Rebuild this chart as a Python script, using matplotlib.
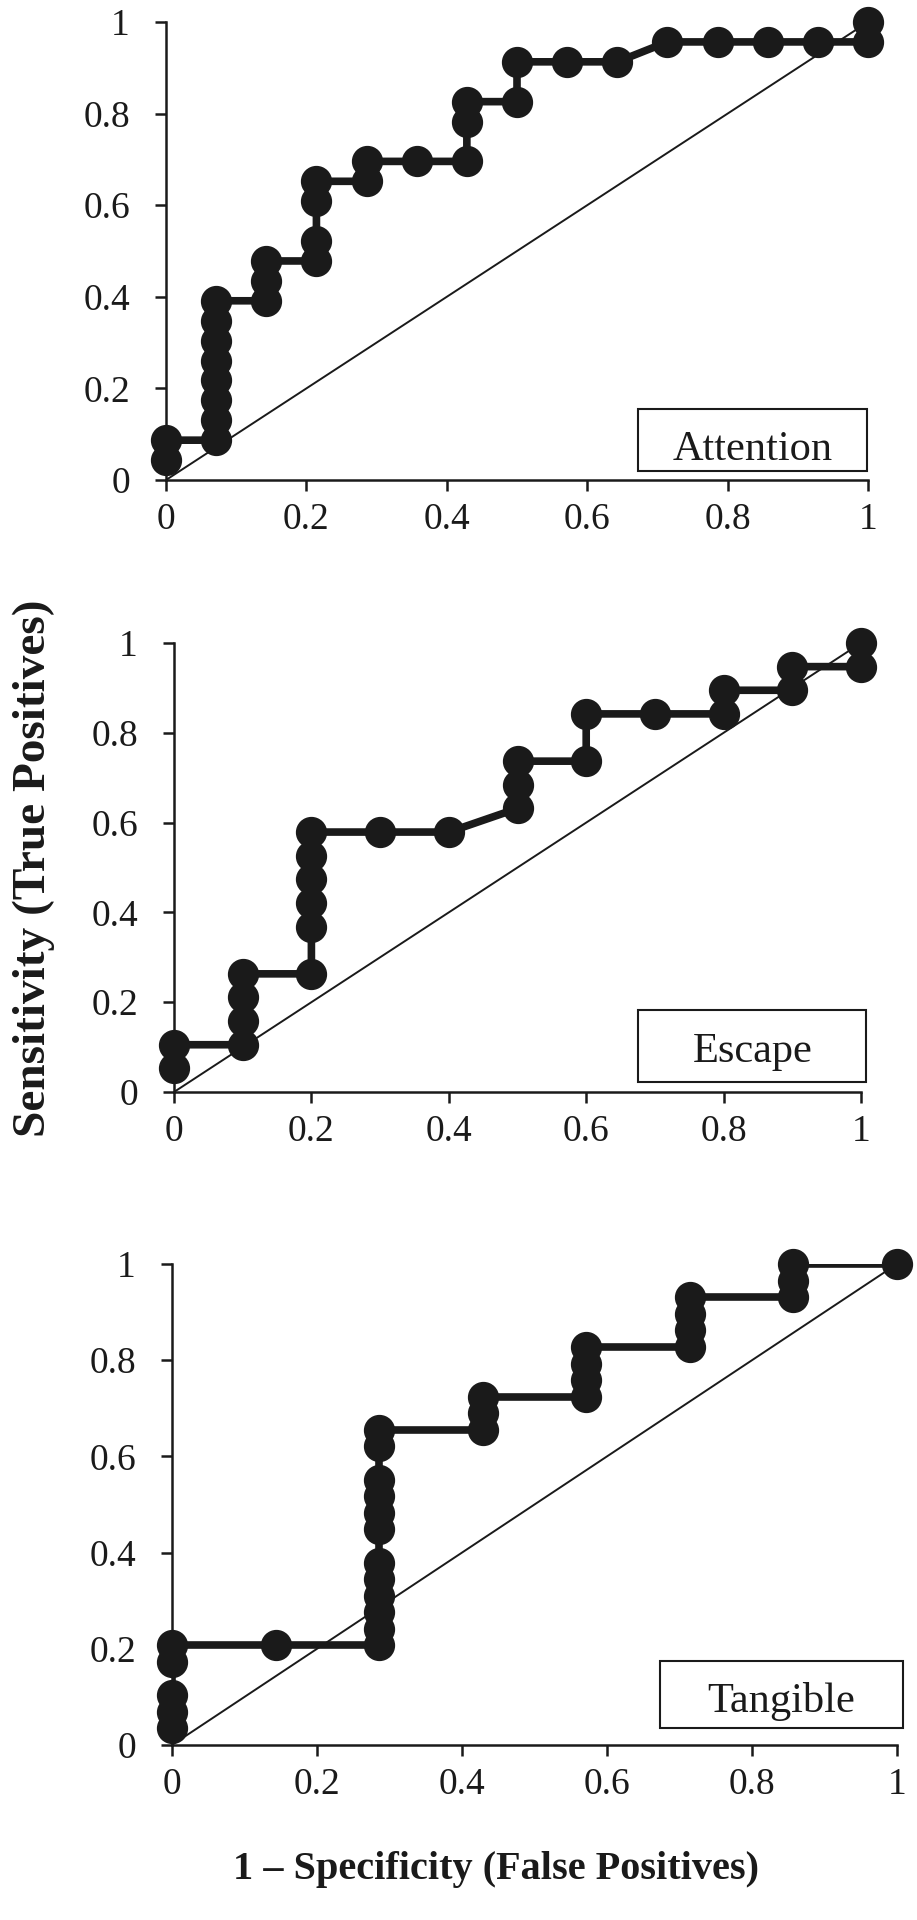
import matplotlib
matplotlib.use("Agg")
import matplotlib.pyplot as plt
import matplotlib.patches as mpatches
import numpy as np

plt.rcParams['font.family'] = ['Liberation Serif', 'DejaVu Serif']

# ROC points, counted in units of one case (false positives / true positives)
att_fp = [0, 0, 1, 1, 1, 1, 1, 1, 1, 1, 2, 2, 2, 3, 3, 3, 3, 4, 4, 5, 6, 6, 6, 7, 7, 8, 9, 10, 11, 12, 13, 14, 14]
att_tp = [1, 2, 2, 3, 4, 5, 6, 7, 8, 9, 9, 10, 11, 11, 12, 14, 15, 15, 16, 16, 16, 18, 19, 19, 21, 21, 21, 22, 22, 22, 22, 22, 23]
att_neg, att_pos = 14, 23

esc_fp = [0, 0, 1, 1, 1, 1, 2, 2, 2, 2, 2, 2, 3, 4, 5, 5, 5, 6, 6, 7, 8, 8, 9, 9, 10, 10]
esc_tp = [1, 2, 2, 3, 4, 5, 5, 7, 8, 9, 10, 11, 11, 11, 12, 13, 14, 14, 16, 16, 16, 17, 17, 18, 18, 19]
esc_neg, esc_pos = 10, 19

tan_fp = [0, 0, 0, 0, 0, 1, 2, 2, 2, 2, 2, 2, 2, 2, 2, 2, 2, 2, 3, 3, 3, 4, 4, 4, 4, 5, 5, 5, 5, 6, 6, 6, 7]
tan_tp = [1, 2, 3, 5, 6, 6, 6, 7, 8, 9, 10, 11, 13, 14, 15, 16, 18, 19, 19, 20, 21, 21, 22, 23, 24, 24, 25, 26, 27, 27, 28, 29, 29]
tan_neg, tan_pos = 7, 29

ticks = [0, 0.2, 0.4, 0.6, 0.8, 1]
tick_labels = ["0", "0.2", "0.4", "0.6", "0.8", "1"]

panels = [
    ("Attention", att_fp, att_tp, att_neg, att_pos),
    ("Escape", esc_fp, esc_tp, esc_neg, esc_pos),
    ("Tangible", tan_fp, tan_tp, tan_neg, tan_pos),
]

W, H = 917, 1920
# axes boxes in pixels: left, right, top, bottom
boxes_px = [(166, 868, 22, 480), (174, 861, 643, 1092), (172, 897, 1264, 1745)]
# label box in axes coords: x0, x1, y0, y1, and where the text baseline sits inside it
label_boxes = [(0.672, 0.999, 0.02, 0.155), (0.676, 1.008, 0.022, 0.183), (0.673, 1.008, 0.035, 0.174)]
baseline_frac = [0.18, 0.28, 0.24]

ink = "#1a1a1a"

fig = plt.figure(figsize=(W / 100, H / 100), dpi=100)

for (name, fp, tp, nneg, npos), (l, r, t, b), (bx0, bx1, by0, by1), bf in zip(
        panels, boxes_px, label_boxes, baseline_frac):
    ax = fig.add_axes([l / W, 1 - b / H, (r - l) / W, (b - t) / H])
    x = np.array(fp) / nneg
    y = np.array(tp) / npos

    ax.plot([0, 1], [0, 1], color=ink, lw=1.4, zorder=2)
    ax.plot(x, y, color=ink, lw=5.5, zorder=3)
    ax.plot(x, y, "o", color=ink, ms=21.5, clip_on=False, zorder=4)

    ax.set_xlim(0, 1)
    ax.set_ylim(0, 1)
    ax.set_xticks(ticks)
    ax.set_xticklabels(tick_labels)
    ax.set_yticks(ticks)
    ax.set_yticklabels(tick_labels)
    for s in ["top", "right"]:
        ax.spines[s].set_visible(False)
    for s in ["left", "bottom"]:
        ax.spines[s].set_linewidth(1.8)
        ax.spines[s].set_color(ink)
    ax.tick_params(axis="both", direction="out", length=8, width=1.8,
                   colors=ink, labelsize=27)
    ax.tick_params(axis="y", pad=18)
    ax.tick_params(axis="x", pad=8)

    rect = mpatches.Rectangle((bx0, by0), bx1 - bx0, by1 - by0, transform=ax.transAxes,
                              facecolor="white", edgecolor=ink, lw=1.5,
                              clip_on=False, zorder=5)
    ax.add_patch(rect)
    ax.text((bx0 + bx1) / 2, by0 + bf * (by1 - by0), name, transform=ax.transAxes,
            ha="center", va="baseline", fontsize=30.5, color=ink, zorder=6)

fig.text(34 / W, 1 - 868 / H, "Sensitivity (True Positives)", rotation=90,
         ha="center", va="center", fontsize=34, fontweight="bold", color=ink)
fig.text(496 / W, 1 - 1870 / H, "1 \u2013 Specificity (False Positives)",
         ha="center", va="center", fontsize=29, fontweight="bold", color=ink)

fig.savefig("out.png", dpi=100)
